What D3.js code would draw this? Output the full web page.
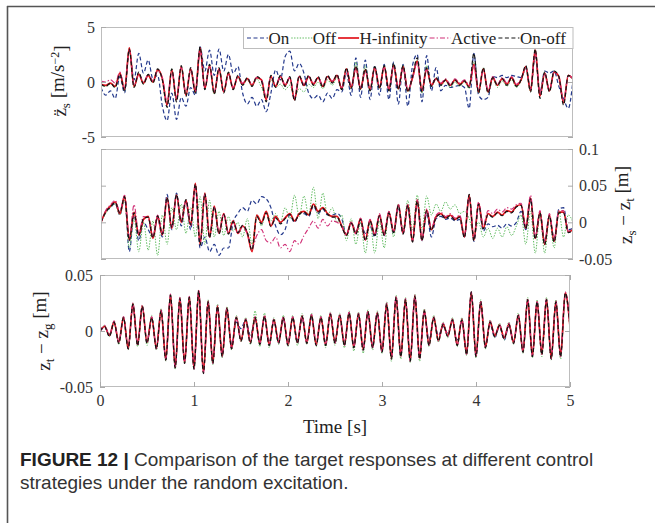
<!DOCTYPE html>
<html><head><meta charset="utf-8">
<script src="https://cdn.jsdelivr.net/npm/d3@7/dist/d3.min.js"></script>
<style>
html,body{margin:0;padding:0;background:#fff;}
svg{display:block;}
</style></head><body>
<svg id="chart" width="655" height="523"></svg>
<script>
// ---------- DATA ----------
// sampling grid: 0 .. 5 s every 0.05 s (101 samples)
const timeS = d3.range(0, 101).map(i => +(i * 0.05).toFixed(2));

const seriesNames = ["On", "Off", "H-infinity", "Active", "On-off"];

// Panel 1: body acceleration [m/s^-2]
const accelOn = [-0.5,-1.2,-0.8,-1.5,0.5,-1.0,2.9,0.2,2.6,0.8, 2.0,0.3,0.6,-2.2,-3.5,-1.0,-3.4,-1.4,-2.2,-0.5, -1.2,3.2,1.0,2.9,0.6,3.0,1.0,2.5,0.8,1.4, -1.0,-2.0,-1.4,-2.2,-1.6,-2.7,-1.0,1.1,0.2,2.3, 2.8,1.0,1.7,0.8,-1.0,-1.5,-1.2,-1.8,-1.0,-1.5, -0.7,-0.9,0.8,-1.2,2.2,-1.4,2.0,-1.6,1.5,-1.2, 1.6,-1.6,1.8,-2.0,1.6,-2.2,1.5,2.5,-1.8,2.4, -0.8,1.3,-0.8,-0.3,-0.5,-0.4,-0.3,-0.5,-2.4,2.6, -1.2,-1.6,-1.4,0.5,0.4,0.6,0.4,0.6,0.5,0.4, 1.2,-0.6,2.3,-0.9,1.0,0.8,1.0,-0.4,-1.5,-2.4, 0.2];
const accelOff = [-0.3,-0.4,-0.2,-0.5,0.7,-0.8,2.8,-0.5,0.8,-0.2, 0.7,-0.1,1.0,0.2,-1.9,1.2,-1.5,1.3,-1.1,1.1, -1.0,2.9,-0.5,1.4,-1.1,1.1,-0.8,0.7,-0.5,0.4, -0.3,0.2,-0.4,0.3,-0.5,-1.3,0.2,-0.5,-0.2,-0.7, -0.3,-1.4,-0.6,-0.9,-0.2,-0.5,0.0,-0.6,0.2,-0.3, 0.4,-0.7,1.2,-0.6,1.8,-0.7,1.5,-0.8,1.4,-0.6, 1.5,-0.8,1.6,-0.7,1.5,-0.9,0.3,2.0,-1.0,1.5, -0.4,0.4,-0.3,0.1,-0.5,0.0,-0.4,0.0,-0.6,1.8, -1.0,1.3,-1.0,0.3,-0.5,0.1,-0.4,0.2,-0.5,0.1, 1.3,-0.9,2.6,-1.2,0.9,-0.7,1.0,0.4,-1.7,0.5, 0.2];
const accelHinf = [-0.2,-0.3,-0.1,-0.4,0.8,-0.7,3.1,-0.4,0.7,-0.1, 0.6,0.0,1.1,0.3,-2.1,1.1,-1.6,1.4,-1.2,1.2, -0.9,3.1,-0.6,1.5,-1.0,1.2,-0.9,0.8,-0.6,0.5, -0.2,0.3,-0.3,0.4,0.2,-1.6,0.5,-0.4,0.5,-0.3, 0.4,-1.6,0.5,-0.3,0.5,-0.2,0.4,-0.4,0.5,0.0, 0.6,-0.6,1.2,-0.5,1.3,-0.6,1.1,-0.7,1.3,-0.5, 1.4,-0.7,1.5,-0.6,1.4,-0.8,0.4,1.9,-0.8,1.2, -0.3,0.3,-0.2,0.2,-0.3,0.2,-0.2,0.1,-0.4,1.6, -0.9,1.2,-0.9,0.4,-0.3,0.3,-0.2,0.4,-0.3,0.2, 1.4,-0.8,2.9,-1.3,0.8,-0.8,0.9,0.5,-1.9,0.6, 0.3];
const accelActive = [0.1,0.0,0.2,-0.1,0.9,-0.6,2.9,-0.3,0.8,0.0, 0.7,0.1,1.0,0.4,-1.8,1.0,-1.4,1.3,-1.0,1.1, -0.8,2.8,-0.5,1.4,-0.9,1.1,-0.8,0.7,-0.5,0.5, -0.1,0.3,-0.2,0.4,0.2,-1.4,0.5,-0.3,0.5,-0.2, 0.4,-1.4,0.5,-0.2,0.5,-0.1,0.4,-0.3,0.5,0.1, 0.6,-0.5,1.1,-0.4,1.2,-0.5,1.0,-0.6,1.2,-0.4, 1.3,-0.6,1.4,-0.5,1.3,-0.7,0.3,1.8,-0.7,1.1, -0.2,0.3,-0.1,0.3,-0.2,0.3,-0.1,0.2,-0.3,1.5, -0.8,1.1,-0.8,0.5,-0.2,0.4,-0.1,0.5,-0.2,0.3, 1.3,-0.7,2.7,-1.1,0.8,-0.7,0.9,0.5,-1.7,0.6, 0.3];
const accelOnOff = [-0.2,-0.4,-0.1,-0.5,0.7,-0.8,3.0,-0.5,0.9,-0.2, 0.7,-0.1,1.2,0.2,-2.3,1.2,-1.8,1.5,-1.3,1.3, -1.0,3.2,-0.7,1.6,-1.1,1.3,-1.0,0.9,-0.7,0.6, -0.3,0.4,-0.4,0.5,0.1,-1.8,0.6,-0.5,0.6,-0.4, 0.5,-1.7,0.6,-0.4,0.6,-0.3,0.5,-0.5,0.6,-0.1, 0.7,-0.7,1.3,-0.6,1.5,-0.7,1.2,-0.8,1.4,-0.6, 1.5,-0.8,1.7,-0.7,1.5,-0.9,0.5,2.2,-0.9,1.3, -0.4,0.4,-0.3,0.2,-0.4,0.2,-0.3,0.1,-0.5,2.6, -1.0,1.3,-1.0,0.4,-0.3,0.3,-0.3,0.4,-0.4,0.2, 1.5,-0.9,3.0,-1.5,0.9,-0.9,1.0,0.5,-2.1,0.6, 0.3];

// Panel 2: suspension deflection zs - zt [m]
const deflOn = [0.000,0.014,0.020,0.026,0.010,0.034,-0.040,0.010,-0.025,0.000, -0.010,-0.020,0.006,-0.020,0.038,-0.010,0.040,-0.005,0.028,-0.010, 0.048,-0.035,-0.020,-0.040,-0.030,-0.045,-0.035,-0.035,0.000,0.012, 0.020,0.015,0.030,0.025,0.035,0.032,0.020,-0.005,-0.017,-0.010, 0.010,0.000,0.012,0.012,0.008,0.022,0.012,0.018,0.010,0.010, 0.012,0.005,-0.017,0.000,-0.012,0.000,-0.015,-0.005,-0.020,0.008, -0.018,0.012,-0.015,0.020,-0.015,0.022,-0.025,0.028,-0.025,0.012, -0.020,0.005,0.008,0.004,0.006,0.002,0.004,-0.020,0.035,-0.026, 0.022,-0.012,-0.002,-0.006,-0.004,-0.008,-0.002,-0.005,0.000,0.015, -0.010,0.030,-0.020,0.012,-0.026,0.008,-0.022,0.018,0.020,-0.010, -0.008];
const deflOff = [0.000,0.012,0.020,0.025,0.010,0.030,-0.035,0.005,-0.040,0.000, -0.038,0.002,-0.045,0.010,-0.030,0.020,-0.010,0.025,-0.015,0.020, -0.020,0.035,-0.030,0.030,-0.020,0.015,-0.018,0.008,-0.012,0.000, -0.020,0.005,-0.030,0.010,-0.005,0.015,0.002,0.012,0.000,0.020, 0.005,0.037,0.008,0.036,0.010,0.048,0.005,0.040,0.010,0.020, 0.000,0.010,-0.025,0.005,-0.030,0.000,-0.042,0.000,-0.042,0.002, -0.035,0.015,-0.020,0.025,-0.010,0.030,-0.010,0.037,-0.010,0.036, 0.010,0.025,0.015,0.028,0.018,0.024,0.012,0.015,0.005,-0.015, 0.000,-0.020,-0.008,-0.022,-0.008,-0.020,-0.006,-0.018,-0.005,0.010, -0.030,0.015,-0.042,0.010,-0.042,0.005,-0.035,0.015,-0.020,0.010, 0.000];
const deflHinf = [0.000,0.015,0.022,0.028,0.012,0.036,-0.024,0.014,-0.017,0.004, 0.008,-0.022,0.008,-0.017,0.033,-0.008,0.037,0.000,0.030,-0.004, 0.053,-0.030,0.040,-0.020,0.022,-0.015,0.012,-0.015,0.002,-0.015, -0.005,-0.015,-0.040,0.010,0.000,0.015,-0.005,0.008,0.000,0.006, 0.012,0.002,0.012,0.015,0.010,0.025,0.015,0.020,0.012,0.008, 0.008,-0.005,-0.017,0.000,-0.015,0.005,-0.024,0.003,-0.017,0.010, -0.017,0.014,-0.013,0.024,-0.015,0.024,-0.026,0.030,-0.024,0.017, -0.010,0.008,0.012,0.006,0.010,0.004,0.008,-0.020,0.037,-0.024, 0.026,-0.008,0.012,0.008,0.014,0.010,0.016,0.014,0.022,0.024, -0.008,0.033,-0.022,0.014,-0.030,0.010,-0.026,0.014,0.014,-0.013, -0.010];
const deflActive = [0.000,0.016,0.024,0.030,0.015,0.037,-0.020,0.024,-0.015,0.008, 0.005,-0.018,0.010,-0.015,0.032,-0.006,0.036,0.002,0.030,-0.004, 0.050,-0.028,0.038,-0.020,0.020,-0.014,0.012,-0.015,0.000,-0.015, -0.006,-0.016,-0.035,-0.018,-0.010,-0.025,-0.028,-0.020,-0.035,-0.030, -0.040,-0.025,-0.030,-0.018,-0.008,0.002,-0.008,0.004,-0.005,0.002, 0.000,-0.005,-0.018,0.000,-0.016,0.006,-0.024,0.004,-0.017,0.012, -0.016,0.015,-0.012,0.025,-0.014,0.025,-0.025,0.031,-0.022,0.018, -0.008,0.010,0.014,0.008,0.012,0.006,0.010,-0.018,0.036,-0.022, 0.028,-0.004,0.016,0.012,0.018,0.014,0.020,0.018,0.024,0.026, -0.006,0.037,-0.020,0.016,-0.028,0.012,-0.024,0.016,0.016,-0.012, -0.010];
const deflOnOff = [0.000,0.014,0.021,0.027,0.013,0.035,-0.025,0.013,-0.018,0.005, 0.007,-0.021,0.009,-0.016,0.034,-0.007,0.038,0.001,0.031,-0.003, 0.052,-0.031,0.039,-0.021,0.021,-0.016,0.011,-0.016,0.001,-0.014, -0.004,-0.014,-0.038,0.008,-0.002,0.013,-0.006,0.006,-0.002,0.005, 0.011,0.001,0.011,0.014,0.009,0.024,0.014,0.019,0.011,0.007, 0.007,-0.006,-0.018,-0.001,-0.016,0.004,-0.025,0.002,-0.018,0.009, -0.018,0.013,-0.014,0.023,-0.016,0.023,-0.027,0.029,-0.025,0.016, -0.011,0.007,0.011,0.005,0.009,0.003,0.007,-0.021,0.038,-0.025, 0.025,-0.009,0.011,0.007,0.013,0.009,0.015,0.013,0.021,0.023, -0.009,0.032,-0.023,0.013,-0.031,0.009,-0.027,0.013,0.013,-0.014, -0.011];

// Panel 3: tyre deflection zt - zg [m]
const tireOn = [0.000,0.003,-0.003,0.007,-0.009,0.011,-0.014,0.022,-0.011,0.020, -0.009,0.011,-0.014,0.017,-0.024,0.030,-0.030,0.028,-0.026,0.029, -0.031,0.034,-0.035,0.024,-0.026,0.020,-0.020,0.018,-0.012,0.008, 0.002,0.010,-0.004,0.010,-0.009,0.011,-0.010,0.008,-0.008,0.010, -0.010,0.010,-0.008,0.011,-0.008,0.012,-0.010,0.010,-0.010,0.013, -0.008,0.012,-0.010,0.014,-0.012,0.013,-0.014,0.015,-0.012,0.014, -0.016,0.022,-0.022,0.028,-0.020,0.026,-0.024,0.029,-0.022,0.016, -0.008,0.010,-0.004,0.004,-0.002,0.008,-0.008,0.008,-0.018,0.032, -0.020,0.024,-0.012,0.006,-0.006,0.004,-0.008,0.004,-0.009,0.012, -0.016,0.026,-0.020,0.024,-0.018,0.026,-0.022,0.024,-0.020,0.032, 0.006];
const tireOff = [0.000,0.005,-0.005,0.009,-0.012,0.013,-0.017,0.025,-0.014,0.023, -0.013,0.014,-0.017,0.020,-0.027,0.033,-0.034,0.030,-0.029,0.031, -0.034,0.035,-0.036,0.028,-0.030,0.024,-0.024,0.022,-0.017,0.014, -0.010,0.012,-0.012,0.018,-0.014,0.016,-0.015,0.012,-0.012,0.014, -0.014,0.014,-0.013,0.016,-0.012,0.016,-0.014,0.014,-0.015,0.017, -0.013,0.016,-0.015,0.018,-0.018,0.017,-0.020,0.019,-0.017,0.018, -0.020,0.026,-0.027,0.032,-0.025,0.030,-0.028,0.033,-0.027,0.020, -0.014,0.014,-0.010,0.008,-0.006,0.012,-0.014,0.012,-0.022,0.033, -0.024,0.028,-0.016,0.010,-0.006,0.007,-0.008,0.008,-0.012,0.016, -0.020,0.030,-0.024,0.028,-0.023,0.030,-0.026,0.028,-0.025,0.033, 0.002];
const tireHinf = [0.000,0.004,-0.004,0.008,-0.010,0.012,-0.015,0.024,-0.012,0.022, -0.010,0.012,-0.015,0.018,-0.025,0.032,-0.032,0.029,-0.028,0.030, -0.033,0.036,-0.037,0.026,-0.028,0.022,-0.022,0.020,-0.015,0.012, -0.008,0.010,-0.010,0.012,-0.011,0.013,-0.012,0.010,-0.010,0.012, -0.012,0.012,-0.010,0.013,-0.010,0.014,-0.012,0.012,-0.012,0.015, -0.010,0.014,-0.012,0.016,-0.014,0.015,-0.016,0.017,-0.014,0.016, -0.018,0.024,-0.024,0.030,-0.022,0.028,-0.026,0.031,-0.024,0.018, -0.012,0.012,-0.008,0.006,-0.004,0.010,-0.012,0.010,-0.020,0.034, -0.022,0.026,-0.014,0.008,-0.004,0.005,-0.006,0.006,-0.010,0.014, -0.018,0.028,-0.022,0.026,-0.020,0.028,-0.024,0.026,-0.022,0.034, 0.004];
const tireActive = [0.000,0.005,-0.004,0.009,-0.011,0.013,-0.016,0.025,-0.013,0.023, -0.011,0.013,-0.016,0.019,-0.026,0.033,-0.033,0.030,-0.029,0.031, -0.034,0.037,-0.038,0.027,-0.029,0.023,-0.023,0.021,-0.016,0.013, -0.009,0.011,-0.011,0.013,-0.012,0.014,-0.013,0.011,-0.011,0.013, -0.013,0.013,-0.011,0.014,-0.011,0.015,-0.013,0.013,-0.013,0.016, -0.011,0.015,-0.013,0.017,-0.015,0.016,-0.017,0.018,-0.015,0.017, -0.019,0.025,-0.025,0.031,-0.023,0.029,-0.027,0.032,-0.025,0.019, -0.013,0.013,-0.009,0.007,-0.005,0.011,-0.013,0.011,-0.021,0.035, -0.023,0.027,-0.015,0.009,-0.005,0.006,-0.007,0.007,-0.011,0.015, -0.019,0.029,-0.023,0.027,-0.021,0.029,-0.025,0.027,-0.023,0.035, 0.005];
const tireOnOff = [0.000,0.004,-0.005,0.008,-0.011,0.012,-0.016,0.024,-0.013,0.022, -0.011,0.012,-0.016,0.018,-0.026,0.032,-0.033,0.029,-0.029,0.030, -0.034,0.036,-0.038,0.026,-0.029,0.022,-0.023,0.020,-0.016,0.012, -0.009,0.010,-0.011,0.012,-0.012,0.013,-0.013,0.010,-0.011,0.012, -0.013,0.012,-0.011,0.013,-0.011,0.014,-0.013,0.012,-0.013,0.015, -0.011,0.014,-0.013,0.016,-0.015,0.015,-0.017,0.017,-0.015,0.016, -0.019,0.024,-0.025,0.030,-0.023,0.028,-0.027,0.031,-0.025,0.018, -0.013,0.012,-0.009,0.006,-0.005,0.010,-0.013,0.010,-0.021,0.035, -0.023,0.026,-0.015,0.008,-0.005,0.005,-0.007,0.006,-0.011,0.014, -0.019,0.028,-0.023,0.026,-0.021,0.028,-0.025,0.026,-0.023,0.034, 0.004];

// tick labels
const timeTicks = [0, 1, 2, 3, 4, 5];
const accelTicks = [-5, 0, 5];
const deflTicks = [-0.05, 0, 0.05, 0.1];
const tireTicks = [-0.05, 0, 0.05];

// ---------- STYLE ----------
const lineStyle = {
  "On":         {color: "#24398c", dash: "4,2.5", width: 1.2},
  "Off":        {color: "#5cba5c", dash: "1.4,1.4", width: 1.0},
  "H-infinity": {color: "#e2141c", dash: null, width: 1.7},
  "Active":     {color: "#d02f76", dash: "5,2,1.4,2", width: 1.1},
  "On-off":     {color: "#141414", dash: "4,2.5", width: 1.2}
};
const serif = "'Liberation Serif','Times New Roman',serif";
const boxColor = "#bdbdbd";
const textColor = "#333";
const plainFmt = d => String(d);   // "-0.05", "0", "0.1", "1"

const svg = d3.select("#chart");

// outer figure frame
svg.append("line").attr("x1", 7.5).attr("x2", 7.5).attr("y1", 6).attr("y2", 523)
  .attr("stroke", "#555").attr("stroke-width", 1.6);
svg.append("line").attr("x1", 7).attr("x2", 655).attr("y1", 6.5).attr("y2", 6.5)
  .attr("stroke", "#555").attr("stroke-width", 1.6);

function drawPanel(cfg) {
  const x = d3.scaleLinear().domain([0, 5]).range([cfg.x0, cfg.x1]);
  const y = d3.scaleLinear().domain(cfg.domain).range([cfg.y1, cfg.y0]);
  const g = svg.append("g");
  const clipId = "clip" + cfg.id;
  svg.append("clipPath").attr("id", clipId).append("rect")
    .attr("x", cfg.x0).attr("y", cfg.y0).attr("width", cfg.x1 - cfg.x0).attr("height", cfg.y1 - cfg.y0);

  const line = d3.line().x((d, i) => x(timeS[i])).y(d => y(d)).curve(d3.curveMonotoneX);
  const lg = g.append("g").attr("clip-path", `url(#${clipId})`);
  cfg.series.forEach((vals, k) => {
    const st = lineStyle[seriesNames[k]];
    lg.append("path").datum(vals).attr("d", line)
      .attr("fill", "none").attr("stroke", st.color).attr("stroke-width", st.width)
      .attr("stroke-dasharray", st.dash).attr("stroke-linejoin", "round");
  });

  // box
  g.append("rect").attr("x", cfg.x0 + 0.5).attr("y", cfg.y0 + 0.5)
    .attr("width", cfg.x1 - cfg.x0 - 1).attr("height", cfg.y1 - cfg.y0 - 1)
    .attr("fill", "none").attr("stroke", boxColor).attr("stroke-width", 1);

  const styleAxis = sel => {
    sel.select(".domain").remove();
    sel.selectAll(".tick line").attr("stroke", "#aaa");
    sel.selectAll(".tick text").attr("fill", textColor).attr("font-family", null).attr("font-size", null)
      .style("font-family", serif).style("font-size", "16px");
  };

  const left = d3.axisLeft(y).tickValues(cfg.ticks).tickSize(-5).tickSizeOuter(0).tickPadding(cfg.leftPad || 6)
    .tickFormat(cfg.leftLabels ? plainFmt : () => "");
  g.append("g").attr("transform", `translate(${cfg.x0},0)`).call(left).call(styleAxis);

  const right = d3.axisRight(y).tickValues(cfg.ticks).tickSize(-5).tickSizeOuter(0).tickPadding(6)
    .tickFormat(cfg.rightLabels ? plainFmt : () => "");
  g.append("g").attr("transform", `translate(${cfg.x1},0)`).call(right).call(styleAxis);

  if (cfg.xLabels) {
    const bottom = d3.axisBottom(x).tickValues(timeTicks).tickSize(-5).tickSizeOuter(0).tickPadding(8).tickFormat(plainFmt);
    g.append("g").attr("transform", `translate(0,${cfg.y1})`).call(bottom).call(styleAxis);
    const top = d3.axisTop(x).tickValues(timeTicks).tickSize(-5).tickSizeOuter(0).tickFormat(() => "");
    g.append("g").attr("transform", `translate(0,${cfg.y0})`).call(top).call(styleAxis);
  }
  return {x, y, g};
}

drawPanel({id: 1, x0: 101, x1: 573, y0: 27, y1: 137, domain: [-5, 5], ticks: accelTicks,
  leftLabels: true, leftPad: 6, series: [accelOn, accelOff, accelHinf, accelActive, accelOnOff]});
drawPanel({id: 2, x0: 101, x1: 573, y0: 149, y1: 259, domain: [-0.05, 0.1], ticks: deflTicks,
  rightLabels: true, series: [deflOn, deflOff, deflHinf, deflActive, deflOnOff]});
drawPanel({id: 3, x0: 100, x1: 570, y0: 275, y1: 387, domain: [-0.05, 0.05], ticks: tireTicks,
  leftLabels: true, leftPad: 7, xLabels: true, series: [tireOn, tireOff, tireHinf, tireActive, tireOnOff]});

// legend in panel 1
const lg = svg.append("g");
lg.append("rect").attr("x", 243.5).attr("y", 27.5).attr("height", 21).attr("width", 573 - 243.5)
  .attr("fill", "#fff").attr("stroke", boxColor);
let lx = 247;
seriesNames.forEach(name => {
  const st = lineStyle[name];
  lg.append("line").attr("x1", lx).attr("x2", lx + 21).attr("y1", 38).attr("y2", 38)
    .attr("stroke", st.color).attr("stroke-width", st.width).attr("stroke-dasharray", st.dash);
  const t = lg.append("text").attr("x", lx + 21.5).attr("y", 44).text(name)
    .attr("fill", "#222").style("font-family", serif).style("font-size", "17px");
  lx = lx + 21.5 + t.node().getComputedTextLength() + 2;
});

// axis titles
function subText(sel, parts) {
  parts.forEach(p => {
    const ts = sel.append("tspan").text(p.t);
    if (p.sub) ts.attr("dy", "0.3em").style("font-size", "13px");
    if (p.sup) ts.attr("dy", "-0.45em").style("font-size", "12px");
    if (p.back) ts.attr("dy", p.back);
  });
}
const t1 = svg.append("text").attr("transform", "translate(66,81) rotate(-90)")
  .attr("text-anchor", "middle").attr("fill", "#222").style("font-family", serif).style("font-size", "19px");
subText(t1, [{t: "z\u0308"}, {t: "s", sub: true}, {t: " [m/s", back: "-0.3em"}, {t: "\u22122", sup: true}, {t: "]", back: "0.45em"}]);

const t2 = svg.append("text").attr("transform", "translate(632,205) rotate(-90)")
  .attr("text-anchor", "middle").attr("fill", "#222").style("font-family", serif).style("font-size", "19px");
subText(t2, [{t: "z"}, {t: "s", sub: true}, {t: "  \u2212  z", back: "-0.3em"}, {t: "t", sub: true}, {t: " [m]", back: "-0.3em"}]);

const t3 = svg.append("text").attr("transform", "translate(50,331) rotate(-90)")
  .attr("text-anchor", "middle").attr("fill", "#222").style("font-family", serif).style("font-size", "19px");
subText(t3, [{t: "z"}, {t: "t", sub: true}, {t: "  \u2212  z", back: "-0.3em"}, {t: "g", sub: true}, {t: " [m]", back: "-0.3em"}]);

svg.append("text").attr("x", 335).attr("y", 433).attr("text-anchor", "middle")
  .attr("fill", "#222").style("font-family", serif).style("font-size", "19px").text("Time [s]");

// caption
const capFont = "'Liberation Sans Narrow','Liberation Sans',Arial,sans-serif";
const c1 = svg.append("text").attr("x", 20).attr("y", 466)
  .style("font-family", capFont).style("font-size", "19px").attr("fill", "#333");
c1.append("tspan").text("FIGURE 12 |").style("font-weight", "bold").attr("fill", "#222");
c1.append("tspan").text(" Comparison of the target responses at different control");
svg.append("text").attr("x", 20).attr("y", 489)
  .style("font-family", capFont).style("font-size", "19px").attr("fill", "#333")
  .text("strategies under the random excitation.");
</script>
</body></html>
